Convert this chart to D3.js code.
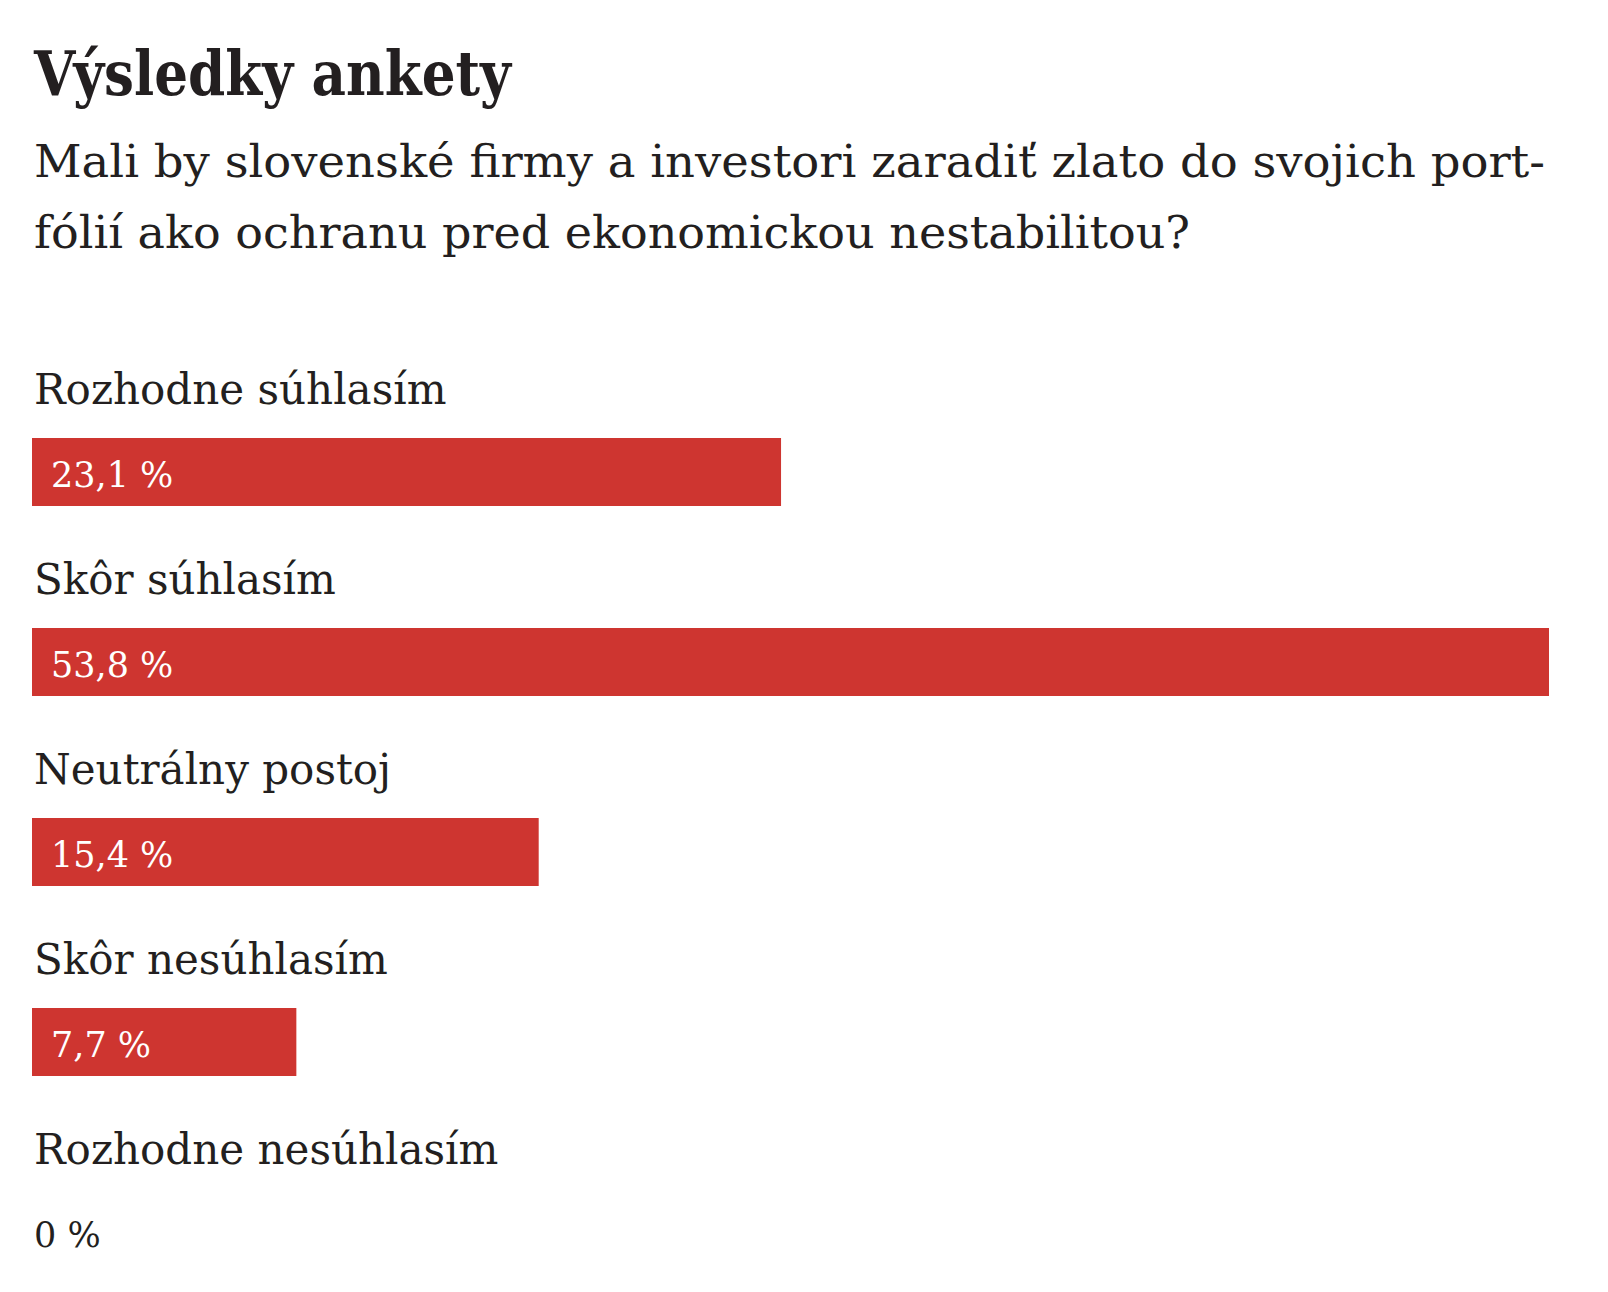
<!DOCTYPE html>
<html>
<head>
<meta charset="utf-8">
<script src="https://cdn.jsdelivr.net/npm/d3@7"></script>
<style>
  html, body { margin: 0; padding: 0; background: #fff; }
  svg { display: block; }
  text { font-family: "DejaVu Serif", serif; fill: #231f20; }
</style>
</head>
<body>
<svg id="chart" width="1608" height="1292"></svg>
<script>
const title = "Výsledky ankety";
const subtitleLines = [
  "Mali by slovenské firmy a investori zaradiť zlato do svojich port-",
  "fólií ako ochranu pred ekonomickou nestabilitou?"
];
const categories = ["Rozhodne súhlasím", "Skôr súhlasím", "Neutrálny postoj", "Skôr nesúhlasím", "Rozhodne nesúhlasím"];
const values = [23.1, 53.8, 15.4, 7.7, 0];
const valueLabels = ["23,1 %", "53,8 %", "15,4 %", "7,7 %", "0 %"];

const svg = d3.select("#chart");
const left = 32;
const barRight = 1549;
const firstBarTop = 438;
const rowStep = 190;
const barH = 68;
const red = "#ce3530";

function fit(sel, target) {
  sel.attr("textLength", target).attr("lengthAdjust", "spacingAndGlyphs");
}

// Title
svg.append("text")
  .attr("x", 34).attr("y", 95)
  .attr("font-size", 62).attr("font-weight", 700)
  .text(title)
  .call(fit, 477);

// Subtitle
const subTargets = [1511, 1156];
svg.selectAll("text.sub").data(subtitleLines).join("text")
  .attr("class", "sub")
  .attr("x", 34)
  .attr("y", (d, i) => 177 + i * 71)
  .attr("font-size", 44)
  .text(d => d)
  .each(function(d, i) { d3.select(this).call(fit, subTargets[i]); });

// Scales: bar length grows with the share, the widest bar fills the full row
const x = d3.scaleLinear()
  .domain([0, 47.5])
  .range([22, barRight - left])
  .clamp(true);

const y = d3.scaleBand()
  .domain(categories)
  .range([firstBarTop, firstBarTop + rowStep * categories.length])
  .paddingInner(0).paddingOuter(0);

const rows = svg.selectAll("g.row")
  .data(categories.map((c, i) => ({ c, v: values[i], lab: valueLabels[i] })))
  .join("g").attr("class", "row");

rows.append("text")
  .attr("x", 34)
  .attr("y", d => y(d.c) - 34)
  .attr("font-size", 42)
  .text(d => d.c);

rows.filter(d => d.v > 0).append("rect")
  .attr("x", left)
  .attr("y", d => y(d.c))
  .attr("width", d => x(d.v))
  .attr("height", barH)
  .attr("fill", red);

rows.append("text")
  .attr("x", d => d.v > 0 ? left + 19 : 34)
  .attr("y", d => y(d.c) + 49)
  .attr("font-size", 35)
  .style("fill", d => d.v > 0 ? "#ffffff" : "#231f20")
  .text(d => d.lab);
</script>
</body>
</html>
